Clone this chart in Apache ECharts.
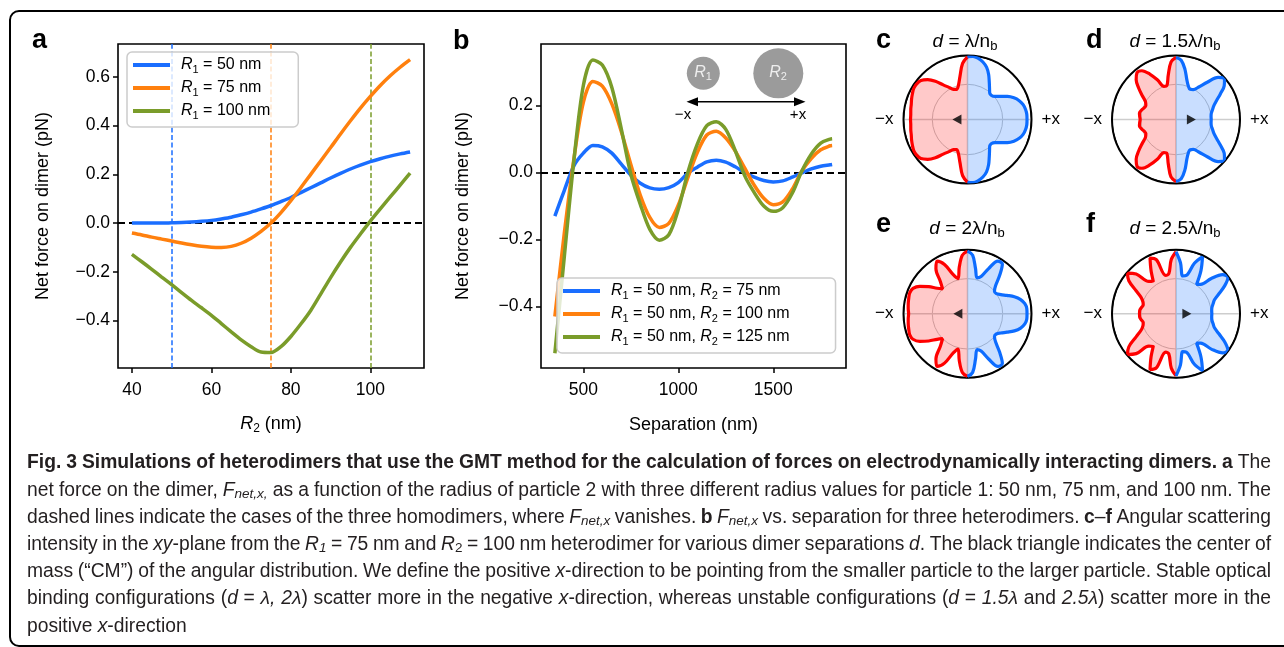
<!DOCTYPE html>
<html><head><meta charset="utf-8">
<script src="https://cdn.jsdelivr.net/npm/echarts@6.0.0/dist/echarts.min.js"></script>
<style>html,body{margin:0;padding:0;background:#fff;}#c{width:1284px;height:647px;}</style>
</head><body><div id="c"></div>
<script>
// ---------- Panel a data ----------
const r2Values = [40,42.5,45,47.5,50,52.5,55,57.5,60,62.5,65,67.5,70,72.5,75,77.5,80,82.5,85,87.5,90,92.5,95,97.5,100,102.5,105,107.5,110];
const forceR1_50  = [0.000,0.000,0.000,0.000,0.001,0.002,0.004,0.007,0.011,0.017,0.024,0.034,0.045,0.058,0.072,0.088,0.105,0.125,0.145,0.165,0.185,0.204,0.222,0.238,0.252,0.264,0.275,0.284,0.292];
const forceR1_75  = [-0.041,-0.049,-0.058,-0.066,-0.074,-0.082,-0.089,-0.095,-0.099,-0.100,-0.096,-0.083,-0.062,-0.034,0.000,0.043,0.092,0.145,0.200,0.255,0.310,0.366,0.420,0.472,0.520,0.565,0.605,0.640,0.671];
const forceR1_100 = [-0.129,-0.159,-0.190,-0.222,-0.253,-0.286,-0.318,-0.348,-0.379,-0.413,-0.447,-0.480,-0.508,-0.530,-0.532,-0.508,-0.466,-0.415,-0.359,-0.292,-0.224,-0.160,-0.100,-0.045,0.008,0.058,0.107,0.156,0.205];
const homodimerR = [50, 75, 100];
const xTicksA = [40, 60, 80, 100];
const yTicksA = [-0.4, -0.2, 0, 0.2, 0.4, 0.6];
const legendA = ['R1 = 50 nm', 'R1 = 75 nm', 'R1 = 100 nm'];

// ---------- Panel b data ----------
const separation = [350,400,450,500,550,600,650,700,750,800,850,900,950,1000,1050,1100,1150,1200,1250,1300,1350,1400,1450,1500,1550,1600,1650,1700,1750,1800,1810];
const forceR2_75  = [-0.130,-0.053,0.020,0.058,0.081,0.077,0.058,0.025,-0.008,-0.032,-0.046,-0.050,-0.045,-0.030,-0.002,0.016,0.032,0.037,0.031,0.017,0.000,-0.014,-0.024,-0.028,-0.025,-0.014,-0.001,0.011,0.019,0.023,0.024];
const forceR2_100 = [-0.430,-0.180,0.040,0.210,0.272,0.258,0.205,0.122,0.024,-0.068,-0.134,-0.164,-0.152,-0.097,-0.016,0.060,0.112,0.123,0.103,0.064,0.013,-0.038,-0.077,-0.096,-0.088,-0.050,0.004,0.042,0.068,0.080,0.081];
const forceR2_125 = [-0.540,-0.250,0.035,0.260,0.336,0.321,0.254,0.130,-0.005,-0.095,-0.170,-0.202,-0.186,-0.110,0.000,0.085,0.140,0.152,0.129,0.065,-0.010,-0.060,-0.100,-0.116,-0.105,-0.062,0.004,0.055,0.088,0.100,0.101];
const xTicksB = [500, 1000, 1500];
const yTicksB = [-0.4, -0.2, 0, 0.2];
const legendB = ['R1 = 50 nm, R2 = 75 nm', 'R1 = 50 nm, R2 = 100 nm', 'R1 = 50 nm, R2 = 125 nm'];

// ---------- Panels c-f: angular scattering (normalised intensity) ----------
const anglesBlue = [-90,-85,-80,-75,-70,-65,-60,-55,-50,-45,-40,-35,-30,-25,-20,-15,-10,-5,0,5,10,15,20,25,30,35,40,45,50,55,60,65,70,75,80,85,90];
const anglesRed  = [90,95,100,105,110,115,120,125,130,135,140,145,150,155,160,165,170,175,180,185,190,195,200,205,210,215,220,225,230,235,240,245,250,255,260,265,270];
const cBlue = [0.98,0.99,0.97,0.93,0.87,0.78,0.68,0.60,0.54,0.53,0.56,0.63,0.72,0.80,0.86,0.90,0.92,0.93,0.93,0.93,0.92,0.90,0.86,0.80,0.72,0.63,0.56,0.53,0.54,0.60,0.68,0.78,0.87,0.93,0.97,0.99,0.98];
const cRed  = [0.98,0.88,0.68,0.55,0.50,0.52,0.58,0.66,0.78,0.88,0.95,0.97,0.97,0.95,0.93,0.91,0.90,0.89,0.89,0.89,0.90,0.91,0.93,0.95,0.97,0.97,0.95,0.88,0.78,0.66,0.58,0.52,0.50,0.55,0.68,0.88,0.98];
const dBlue = [0.97,0.93,0.80,0.65,0.56,0.52,0.54,0.62,0.76,0.93,0.99,0.92,0.80,0.70,0.63,0.59,0.56,0.55,0.55,0.55,0.56,0.59,0.63,0.70,0.80,0.92,0.99,0.93,0.76,0.62,0.54,0.52,0.56,0.65,0.80,0.93,0.97];
const dRed  = [0.97,0.90,0.70,0.55,0.55,0.68,0.82,0.93,0.95,0.88,0.76,0.64,0.55,0.52,0.53,0.56,0.58,0.57,0.56,0.57,0.58,0.56,0.53,0.52,0.55,0.64,0.76,0.88,0.95,0.93,0.82,0.68,0.55,0.55,0.70,0.90,0.97];
const eBlue = [0.98,0.92,0.72,0.58,0.62,0.78,0.95,0.95,0.78,0.62,0.55,0.55,0.60,0.68,0.78,0.86,0.91,0.93,0.93,0.93,0.91,0.86,0.78,0.68,0.60,0.55,0.55,0.62,0.78,0.95,0.95,0.78,0.62,0.58,0.72,0.92,0.98];
const eRed  = [0.98,0.92,0.74,0.57,0.65,0.85,0.95,0.86,0.66,0.55,0.62,0.74,0.86,0.94,0.96,0.95,0.94,0.93,0.92,0.93,0.94,0.95,0.96,0.94,0.86,0.74,0.62,0.55,0.66,0.86,0.95,0.85,0.65,0.57,0.74,0.92,0.98];
const fBlue = [0.97,0.80,0.60,0.62,0.84,0.98,0.78,0.56,0.60,0.78,0.95,0.99,0.88,0.74,0.64,0.60,0.57,0.56,0.56,0.56,0.57,0.60,0.64,0.74,0.88,0.99,0.95,0.78,0.60,0.56,0.78,0.98,0.84,0.62,0.60,0.80,0.97];
const fRed  = [0.97,0.85,0.64,0.62,0.90,0.96,0.78,0.62,0.66,0.88,0.99,0.90,0.72,0.60,0.55,0.53,0.55,0.57,0.57,0.57,0.55,0.53,0.55,0.60,0.72,0.90,0.99,0.88,0.66,0.62,0.78,0.96,0.90,0.62,0.64,0.85,0.97];
// centre of mass marker: [radius, angle]
const cmPoints = [[0.165, 180], [0.24, 0], [0.15, 180], [0.17, 0]];
const polarTitles = [['d',' = λ/n','b'], ['d',' = 1.5λ/n','b'], ['d',' = 2λ/n','b'], ['d',' = 2.5λ/n','b']];
const polarLetters = ['c','d','e','f'];

// ---------- Caption ----------
const captionLines = [
 [['b','Fig. 3 Simulations of heterodimers that use the GMT method for the calculation of forces on electrodynamically interacting dimers. a'],['n',' The']],
 [['n','net force on the dimer, '],['i','F'],['is','net,x,'],['n',' as a function of the radius of particle 2 with three different radius values for particle 1: 50 nm, 75 nm, and 100 nm. The']],
 [['n','dashed lines indicate the cases of the three homodimers, where '],['i','F'],['is','net,x'],['n',' vanishes. '],['b','b'],['n',' '],['i','F'],['is','net,x'],['n',' vs. separation for three heterodimers. '],['b','c'],['n','–'],['b','f'],['n',' Angular scattering']],
 [['n','intensity in the '],['i','xy'],['n','-plane from the '],['i','R'],['is','1'],['n',' = 75 nm and '],['i','R'],['s','2'],['n',' = 100 nm heterodimer for various dimer separations '],['i','d'],['n','. The black triangle indicates the center of']],
 [['n','mass (“CM”) of the angular distribution. We define the positive '],['i','x'],['n','-direction to be pointing from the smaller particle to the larger particle. Stable optical']],
 [['n','binding configurations ('],['i','d'],['n',' = '],['i','λ, 2λ'],['n',') scatter more in the negative '],['i','x'],['n','-direction, whereas unstable configurations ('],['i','d'],['n',' = '],['i','1.5λ'],['n',' and '],['i','2.5λ'],['n',') scatter more in the']],
 [['n','positive '],['i','x'],['n','-direction']]
];

// ================= rendering =================
const F = '"Liberation Sans", Arial, Helvetica, sans-serif';
const BLUE = '#1a6eff', ORANGE = '#ff800e', GREEN = '#7a9c2a', RED = '#ff0000', PBLUE = '#0d6cff';
const minus = v => (v < 0 ? '\u2212' : '') + Math.abs(v).toFixed(1);
const plain = v => String(v);
const pairs = (xs, ys) => xs.map((x, i) => [x, ys[i]]);

const chart = echarts.init(document.getElementById('c'), null, {renderer: 'canvas', width: 1284, height: 647});

const legRich = {
  i: {fontStyle: 'italic', fontSize: 16, fontFamily: F, lineHeight: 20, padding: [0,0,0,6], color: '#000'},
  j: {fontStyle: 'italic', fontSize: 16, fontFamily: F, lineHeight: 20, color: '#000'},
  s: {fontSize: 11, fontFamily: F, lineHeight: 11, verticalAlign: 'bottom', color: '#000'},
  t: {fontSize: 16, fontFamily: F, lineHeight: 20, color: '#000'}
};
function legFmt(name) {
  const parts = name.split(', ');
  return parts.map((p, k) => {
    const m = p.match(/^R(\d)(.*)$/);
    return '{' + (k === 0 ? 'i' : 'j') + '|R}{s|' + m[1] + '}{t|' + m[2] + (k < parts.length - 1 ? ', ' : '') + '}';
  }).join('');
}

const axisNameRich = {
  i: {fontStyle: 'italic', fontSize: 18, fontFamily: F, lineHeight: 22, color: '#000'},
  s: {fontSize: 12, fontFamily: F, lineHeight: 12, verticalAlign: 'bottom', color: '#000'},
  t: {fontSize: 18, fontFamily: F, lineHeight: 22, color: '#000'}
};

function valueX(grid, min, max, ticks, name, nameGap, rich) {
  return {
    gridIndex: grid, type: 'value', min, max,
    axisLine: {show: false, onZero: false},
    axisTick: {show: true, customValues: ticks, length: 5, inside: false, lineStyle: {color: '#000', width: 1.5}},
    axisLabel: {customValues: ticks, fontSize: 17.5, fontFamily: F, color: '#000', margin: 13, formatter: plain},
    splitLine: {show: false},
    name, nameLocation: 'middle', nameGap,
    nameTextStyle: {fontSize: 18, fontFamily: F, color: '#000', rich: rich || undefined}
  };
}
function valueY(grid, min, max, ticks, nameGap) {
  return {
    gridIndex: grid, type: 'value', min, max,
    axisLine: {show: false, onZero: false},
    axisTick: {show: true, customValues: ticks, length: 5, inside: false, lineStyle: {color: '#000', width: 1.5}},
    axisLabel: {customValues: ticks, fontSize: 17.5, fontFamily: F, color: '#000', margin: 8, formatter: minus},
    splitLine: {show: false},
    name: 'Net force on dimer (pN)', nameLocation: 'middle', nameGap,
    nameTextStyle: {fontSize: 18, fontFamily: F, color: '#000'}
  };
}

const lineA = (name, ys, color, mark) => ({
  type: 'line', name, xAxisIndex: 0, yAxisIndex: 0, data: pairs(r2Values, ys),
  smooth: 0.3, showSymbol: false, silent: true, color,
  lineStyle: {color, width: 3.5}, z: 3,
  markLine: {silent: true, symbol: 'none', z: 1, label: {show: false}, animation: false,
    lineStyle: {color, width: 1.5, type: [5, 2.6]}, data: mark}
});
const lineB = (name, ys, color, mark) => ({
  type: 'line', name, xAxisIndex: 1, yAxisIndex: 1, data: pairs(separation, ys),
  smooth: 0.3, showSymbol: false, silent: true, color,
  lineStyle: {color, width: 3.5}, z: 3,
  markLine: mark ? {silent: true, symbol: 'none', z: 1, label: {show: false}, animation: false,
    lineStyle: {color: '#000', width: 1.8, type: [7, 4]}, data: mark} : undefined
});

const zeroLine = {yAxis: 0, lineStyle: {color: '#000', width: 1.8, type: [7, 4]}};

const series = [
  lineA(legendA[0], forceR1_50, BLUE, [{xAxis: homodimerR[0]}, zeroLine]),
  lineA(legendA[1], forceR1_75, ORANGE, [{xAxis: homodimerR[1]}]),
  lineA(legendA[2], forceR1_100, GREEN, [{xAxis: homodimerR[2]}]),
  lineB(legendB[0], forceR2_75, BLUE, [{yAxis: 0}]),
  lineB(legendB[1], forceR2_100, ORANGE),
  lineB(legendB[2], forceR2_125, GREEN)
];

const polarCenters = [[967.5, 119.5], [1176, 119.5], [967.5, 313.8], [1176, 313.8]];
const polarSets = [[cBlue, cRed], [dBlue, dRed], [eBlue, eRed], [fBlue, fRed]];
const polar = [], angleAxis = [], radiusAxis = [];
polarCenters.forEach((c, k) => {
  polar.push({center: c, radius: 64});
  angleAxis.push({polarIndex: k, type: 'value', min: -90, max: 270, interval: 90, startAngle: 270, clockwise: false,
    axisLine: {show: true, lineStyle: {color: '#000', width: 2}}, axisTick: {show: false}, axisLabel: {show: false},
    splitLine: {show: true, lineStyle: {color: '#cdcdcd', width: 1.5}}});
  radiusAxis.push({polarIndex: k, type: 'value', min: 0, max: 1, interval: 0.55,
    axisLine: {show: false}, axisTick: {show: false}, axisLabel: {show: false},
    splitLine: {show: true, lineStyle: {color: ['#000', '#c4c4c4', '#000'], width: 1}}});
  const [bl, rd] = polarSets[k];
  series.push({type: 'line', coordinateSystem: 'polar', polarIndex: k, data: anglesRed.map((a, i) => [rd[i], a]),
    smooth: 0.35, showSymbol: false, silent: true, clip: false, color: RED,
    lineStyle: {color: RED, width: 3.2}, areaStyle: {color: 'rgba(255,0,0,0.3)'}, z: 2});
  series.push({type: 'line', coordinateSystem: 'polar', polarIndex: k, data: anglesBlue.map((a, i) => [bl[i], a]),
    smooth: 0.35, showSymbol: false, silent: true, clip: false, color: PBLUE,
    lineStyle: {color: PBLUE, width: 3.2}, areaStyle: {color: 'rgba(13,108,255,0.32)'}, z: 2});
  series.push({type: 'scatter', coordinateSystem: 'polar', polarIndex: k, data: [cmPoints[k]],
    symbol: 'triangle', symbolSize: [10, 9], symbolRotate: cmPoints[k][1] === 180 ? 90 : -90,
    itemStyle: {color: '#000'}, silent: true, z: 5});
});

// ---------- graphic elements ----------
const G = [];
G.push({type: 'rect', shape: {x: 10, y: 11, width: 1310, height: 635, r: 9}, style: {fill: 'none', stroke: '#000', lineWidth: 2}, silent: true});
const letter = (t, x, y) => G.push({type: 'text', x, y, style: {text: t, font: 'bold 27px ' + F, fill: '#000', align: 'left', verticalAlign: 'middle'}, silent: true});
letter('a', 32, 41); letter('b', 453, 42);
const letterPos = [[876, 41], [1086, 41], [876, 225], [1086, 225]];
const titlePos = [[965, 42], [1175, 42], [967, 229], [1175, 229]];
const titleRich = {
  i: {fontStyle: 'italic', fontSize: 19, fontFamily: F, lineHeight: 22, fill: '#000'},
  t: {fontSize: 19, fontFamily: F, lineHeight: 22, fill: '#000'},
  s: {fontSize: 13, fontFamily: F, lineHeight: 13, verticalAlign: 'bottom', fill: '#000'}
};
polarCenters.forEach((c, k) => {
  letter(polarLetters[k], letterPos[k][0], letterPos[k][1]);
  const tt = polarTitles[k];
  G.push({type: 'text', x: titlePos[k][0], y: titlePos[k][1],
    style: {text: '{i|' + tt[0] + '}{t|' + tt[1] + '}{s|' + tt[2] + '}', rich: titleRich, align: 'center', verticalAlign: 'middle'}, silent: true});
  G.push({type: 'text', x: c[0] - 74, y: c[1], style: {text: '\u2212x', font: '17px ' + F, fill: '#000', align: 'right', verticalAlign: 'middle'}, silent: true});
  G.push({type: 'text', x: c[0] + 74, y: c[1], style: {text: '+x', font: '17px ' + F, fill: '#000', align: 'left', verticalAlign: 'middle'}, silent: true});
});
// inset in panel b
const insetRich = {
  i: {fontStyle: 'italic', fontSize: 16, fontFamily: F, lineHeight: 18, fill: '#eeeeee'},
  s: {fontSize: 11, fontFamily: F, lineHeight: 11, verticalAlign: 'bottom', fill: '#eeeeee'}
};
G.push({type: 'circle', shape: {cx: 703.3, cy: 73.3, r: 16.5}, style: {fill: '#9b9b9b'}, silent: true});
G.push({type: 'circle', shape: {cx: 778.3, cy: 73.3, r: 25}, style: {fill: '#9b9b9b'}, silent: true});
G.push({type: 'text', x: 703, y: 73, style: {text: '{i|R}{s|1}', rich: insetRich, align: 'center', verticalAlign: 'middle'}, silent: true});
G.push({type: 'text', x: 778, y: 73, style: {text: '{i|R}{s|2}', rich: insetRich, align: 'center', verticalAlign: 'middle'}, silent: true});
G.push({type: 'line', shape: {x1: 696, y1: 101.7, x2: 796, y2: 101.7}, style: {stroke: '#000', lineWidth: 1.5}, silent: true});
G.push({type: 'polygon', shape: {points: [[686.5, 101.7], [698, 97.2], [698, 106.2]]}, style: {fill: '#000'}, silent: true});
G.push({type: 'polygon', shape: {points: [[805.5, 101.7], [794, 97.2], [794, 106.2]]}, style: {fill: '#000'}, silent: true});
G.push({type: 'text', x: 683, y: 115, style: {text: '\u2212x', font: '15px ' + F, fill: '#000', align: 'center', verticalAlign: 'middle'}, silent: true});
G.push({type: 'text', x: 798, y: 115, style: {text: '+x', font: '15px ' + F, fill: '#000', align: 'center', verticalAlign: 'middle'}, silent: true});

// caption, justified word by word (compressed horizontally when a line is too long)
const CAP = 19.3, CAPB = 19.3, CAP_L = 27, CAP_R = 1271, CAP_Y0 = 463, CAP_DY = 27.2, CAP_COL = '#231f20';
const capRich = {
  n: {fontSize: CAP, fontFamily: F, lineHeight: 22, fill: CAP_COL},
  b: {fontSize: CAPB, fontFamily: F, fontWeight: 'bold', lineHeight: 22, fill: CAP_COL},
  i: {fontSize: CAP, fontFamily: F, fontStyle: 'italic', lineHeight: 22, fill: CAP_COL},
  is: {fontSize: CAP * 0.7, fontFamily: F, fontStyle: 'italic', lineHeight: 12, verticalAlign: 'bottom', fill: CAP_COL},
  s: {fontSize: CAP * 0.7, fontFamily: F, lineHeight: 12, verticalAlign: 'bottom', fill: CAP_COL}
};
const mctx = document.createElement('canvas').getContext('2d');
const fontOf = st => { const s = capRich[st]; return (s.fontStyle || 'normal') + ' ' + (s.fontWeight || 'normal') + ' ' + s.fontSize + 'px ' + F; };
captionLines.forEach((segs, li) => {
  const words = []; let cur = [];
  segs.forEach(([st, txt]) => {
    txt.split(' ').forEach((p, idx) => {
      if (idx > 0) { if (cur.length) words.push(cur); cur = []; }
      if (p.length) cur.push([st, p]);
    });
  });
  if (cur.length) words.push(cur);
  const widths = words.map(w => w.reduce((s, [st, t]) => { mctx.font = fontOf(st); return s + mctx.measureText(t).width; }, 0));
  const total = widths.reduce((a, b) => a + b, 0);
  mctx.font = fontOf('n');
  const sp = mctx.measureText(' ').width;
  const justify = li < captionLines.length - 1;
  const minGap = 4.2;
  let scale = 1, gap = sp;
  if (justify) {
    gap = (CAP_R - CAP_L - total) / (words.length - 1);
    if (gap < minGap) { gap = minGap; scale = (CAP_R - CAP_L - minGap * (words.length - 1)) / total; }
  }
  let x = CAP_L;
  words.forEach((w, wi) => {
    G.push({type: 'text', x, y: CAP_Y0 + li * CAP_DY, scaleX: scale, silent: true,
      style: {text: w.map(([st, t]) => '{' + st + '|' + t + '}').join(''), rich: capRich, align: 'left', verticalAlign: 'middle'}});
    x += widths[wi] * scale + gap;
  });
});

chart.setOption({
  animation: false,
  backgroundColor: '#fff',
  grid: [
    {left: 118, top: 44, width: 306, height: 324, show: true, borderColor: '#000', borderWidth: 1.6, backgroundColor: 'transparent', containLabel: false, outerBoundsMode: 'none'},
    {left: 541, top: 44, width: 305, height: 324, show: true, borderColor: '#000', borderWidth: 1.6, backgroundColor: 'transparent', containLabel: false, outerBoundsMode: 'none'}
  ],
  xAxis: [
    valueX(0, 36.5, 113.5, xTicksA, '{i|R}{s|2}{t| (nm)}', 45, axisNameRich),
    valueX(1, 277, 1883, xTicksB, 'Separation (nm)', 48)
  ],
  yAxis: [
    valueY(0, -0.5955, 0.7355, yTicksA, 66),
    valueY(1, -0.584, 0.384, yTicksB, 69)
  ],
  polar, angleAxis, radiusAxis,
  legend: [
    {data: legendA, orient: 'vertical', left: 127, top: 52, icon: 'rect', itemWidth: 37, itemHeight: 4, itemGap: 5,
     padding: [5, 28, 6, 6], backgroundColor: 'rgba(255,255,255,0.8)', borderColor: '#cccccc', borderWidth: 1.5, borderRadius: 5,
     selectedMode: false, formatter: legFmt, textStyle: {fontSize: 16, fontFamily: F, color: '#000', rich: legRich}},
    {data: legendB, orient: 'vertical', left: 557, top: 278, icon: 'rect', itemWidth: 37, itemHeight: 4, itemGap: 5,
     padding: [5, 46, 6, 6], backgroundColor: 'rgba(255,255,255,0.8)', borderColor: '#cccccc', borderWidth: 1.5, borderRadius: 5,
     selectedMode: false, formatter: legFmt, textStyle: {fontSize: 16, fontFamily: F, color: '#000', rich: legRich}}
  ],
  series,
  graphic: {elements: G}
});
</script>
</body></html>
